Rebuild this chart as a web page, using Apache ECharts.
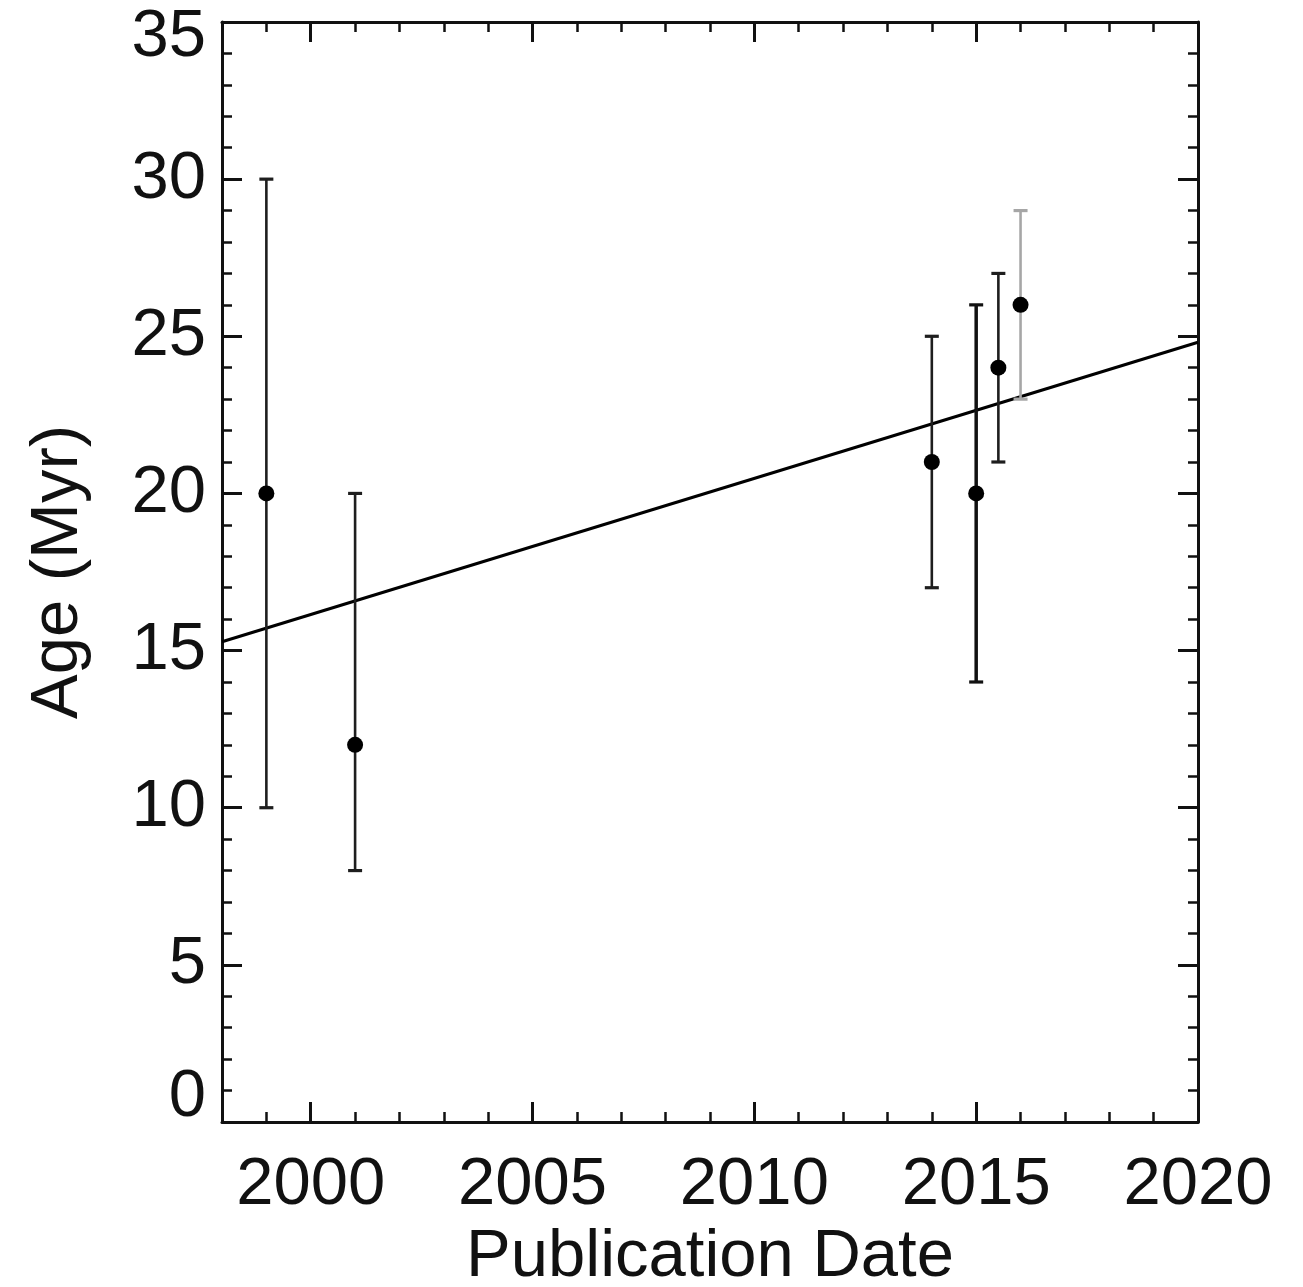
<!DOCTYPE html>
<html>
<head>
<meta charset="utf-8">
<script src="https://cdn.jsdelivr.net/npm/echarts@6/dist/echarts.min.js"></script>
<style>
  html, body { margin: 0; padding: 0; background: #fff; }
  #chart { width: 1303px; height: 1287px; }
</style>
</head>
<body>
<div id="chart"></div>
<script>
// Published age estimates (Myr) by publication year, with 1-sigma ranges
const pubYears = [1999, 2001, 2014, 2015, 2015.5, 2016];
const ages     = [20, 12, 21, 20, 24, 26];
const ageLow   = [10, 8, 17, 14, 21, 23];
const ageHigh  = [30, 20, 25, 26, 27, 29];

// Linear trend through the estimates (end points of the fitted line)
const trendYears = [1998, 2020];
const trendAges  = [15.28, 24.81];

// Tick values
const xMajorTicks = [2000, 2005, 2010, 2015, 2020];
const yMin = 0, yMax = 35;

// Stroke shade for each error bar
const barShade = ['#1e1e1e', '#1e1e1e', '#1e1e1e', '#111', '#1e1e1e', '#a6a6a6'];

const FONT = 'Liberation Sans, Arial, Helvetica, sans-serif';
const INK = '#111';
const FS = 67;

const chart = echarts.init(document.getElementById('chart'), null, { renderer: 'canvas' });

const minorX = (pos) => ({
  type: 'value', position: pos, min: 1998, max: 2020, interval: 1,
  axisLine: { show: true, onZero: false, lineStyle: { color: INK, width: 3 } },
  axisTick: { show: true, inside: true, length: 10, lineStyle: { color: INK, width: 2.5 } },
  axisLabel: { show: false },
  splitLine: { show: false }
});
const majorX = (pos) => ({
  type: 'value', position: pos, min: 1998, max: 2020,
  axisLine: { show: false, onZero: false },
  axisTick: { show: true, inside: true, length: 20, customValues: xMajorTicks,
              lineStyle: { color: INK, width: 3 } },
  axisLabel: { show: false },
  splitLine: { show: false }
});
const yAx = (pos) => ({
  type: 'value', position: pos, min: yMin, max: yMax, interval: 5,
  axisLine: { show: true, onZero: false, lineStyle: { color: INK, width: 3 } },
  axisTick: { show: true, inside: true, length: 20, lineStyle: { color: INK, width: 3 } },
  minorTick: { show: true, splitNumber: 5, length: 10, lineStyle: { color: INK, width: 2.5 } },
  axisLabel: { show: false },
  splitLine: { show: false },
  minorSplitLine: { show: false }
});

const xBottom = minorX('bottom');
xBottom.name = 'Publication Date';
xBottom.nameLocation = 'middle';
xBottom.nameGap = 100;
xBottom.nameTextStyle = { fontFamily: FONT, fontSize: FS, color: INK };
xBottom.axisLabel = {
  show: true, margin: 30, fontFamily: FONT, fontSize: FS, color: INK,
  formatter: (v) => (xMajorTicks.indexOf(v) >= 0 ? String(v) : '')
};

// End labels of the age axis are nudged inward so they stay beside the frame
const labelText = { fontFamily: FONT, fontSize: FS, color: INK };
const yLeft = yAx('left');
yLeft.name = 'Age (Myr)';
yLeft.nameLocation = 'middle';
yLeft.nameGap = 130;
yLeft.nameRotate = 90;
yLeft.nameTextStyle = { fontFamily: FONT, fontSize: FS, color: INK };
yLeft.axisLabel = {
  show: true, margin: 16, fontFamily: FONT, fontSize: FS, color: INK,
  formatter: (v) => (v === yMax ? '{hi|' + v + '}' : v === yMin ? '{lo|' + v + '}' : String(v)),
  rich: {
    hi: Object.assign({ padding: [32, 0, 0, 0] }, labelText),
    lo: Object.assign({ padding: [0, 0, 48, 0] }, labelText)
  }
};

const option = {
  backgroundColor: '#fff',
  animation: false,
  grid: { left: 222, right: 105, top: 22, bottom: 165, containLabel: false, outerBoundsMode: 'none' },
  xAxis: [xBottom, majorX('bottom'), minorX('top'), majorX('top')],
  yAxis: [yLeft, yAx('right')],
  series: [
    {
      type: 'line',
      data: trendYears.map((x, i) => [x, trendAges[i]]),
      showSymbol: false,
      lineStyle: { color: '#000', width: 3 },
      z: 3
    },
    {
      type: 'custom',
      data: pubYears.map((x, i) => [x, ageLow[i], ageHigh[i]]),
      renderItem: (params, api) => {
        const x = api.value(0);
        const lo = api.coord([x, api.value(1)]);
        const hi = api.coord([x, api.value(2)]);
        const cap = 7;
        const style = { stroke: barShade[params.dataIndex], lineWidth: params.dataIndex === 3 ? 3.5 : 2.6 };
        const capStyle = Object.assign({}, style, { lineWidth: 3.2 });
        return {
          type: 'group',
          children: [
            { type: 'line', shape: { x1: lo[0], y1: lo[1], x2: hi[0], y2: hi[1] }, style },
            { type: 'line', shape: { x1: lo[0] - cap, y1: lo[1], x2: lo[0] + cap, y2: lo[1] }, style: capStyle },
            { type: 'line', shape: { x1: hi[0] - cap, y1: hi[1], x2: hi[0] + cap, y2: hi[1] }, style: capStyle }
          ]
        };
      },
      z: 4
    },
    {
      type: 'scatter',
      data: pubYears.map((x, i) => [x, ages[i]]),
      symbol: 'circle',
      symbolSize: 16,
      itemStyle: { color: '#000', opacity: 1 },
      z: 5
    }
  ]
};

chart.setOption(option);
</script>
</body>
</html>
